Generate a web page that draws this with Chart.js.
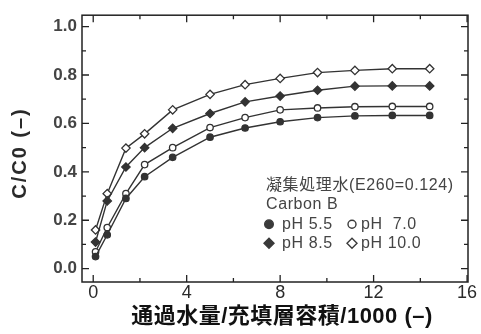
<!DOCTYPE html>
<html>
<head>
<meta charset="utf-8">
<script src="https://cdn.jsdelivr.net/npm/chart.js@4/dist/chart.umd.min.js"></script>
<style>
  html, body { margin: 0; padding: 0; background: #ffffff; }
  canvas { display: block; }
</style>
</head>
<body>
<canvas id="c" width="481" height="334"></canvas>
<script>
// ---- data ----
const bedVolumes = [0.1, 0.6, 1.4, 2.2, 3.4, 5.0, 6.5, 8.0, 9.6, 11.2, 12.8, 14.4];
const ph55  = [0.05, 0.14, 0.29, 0.38, 0.46, 0.543, 0.581, 0.607, 0.624, 0.631, 0.633, 0.633];
const ph70  = [0.07, 0.17, 0.31, 0.43, 0.50, 0.583, 0.624, 0.656, 0.664, 0.669, 0.670, 0.670];
const ph85  = [0.11, 0.28, 0.42, 0.50, 0.58, 0.641, 0.689, 0.713, 0.737, 0.754, 0.755, 0.755];
const ph100 = [0.16, 0.31, 0.498, 0.557, 0.656, 0.72, 0.76, 0.786, 0.81, 0.819, 0.826, 0.826];

const xMajorTicks = [0, 4, 8, 12, 16];
const xMinorTicks = [2, 6, 10, 14];
const yMajorTicks = [0, 0.2, 0.4, 0.6, 0.8, 1.0];
const yMinorTicks = [0.1, 0.3, 0.5, 0.7, 0.9];

const xTitle = '通過水量/充填層容積/1000 (–)';
const yTitle = 'C/C0 (–)';
const legendTitle1 = '凝集処理水(E260=0.124)';
const legendTitle2 = 'Carbon B';
const seriesLabels = ['pH 5.5', 'pH  7.0', 'pH 8.5', 'pH 10.0'];

const toPoints = (ys) => ys.map((v, i) => ({ x: bedVolumes[i], y: v }));

const INK = '#333333';

function ds(label, ys, style, filled, r) {
  return {
    label: label,
    data: toPoints(ys),
    showLine: true,
    tension: 0,
    borderColor: INK,
    borderWidth: 1.4,
    pointStyle: style,
    pointRadius: r,
    pointBackgroundColor: filled ? INK : '#ffffff',
    pointBorderColor: INK,
    pointBorderWidth: 1.3,
    fill: false
  };
}

function drawMarker(ctx, kind, x, y, r, filled) {
  ctx.beginPath();
  if (kind === 'circle') {
    ctx.arc(x, y, r, 0, Math.PI * 2);
  } else {
    ctx.moveTo(x, y - r); ctx.lineTo(x + r, y); ctx.lineTo(x, y + r); ctx.lineTo(x - r, y); ctx.closePath();
  }
  ctx.fillStyle = filled ? '#3a3a3a' : '#ffffff';
  ctx.fill();
  ctx.lineWidth = 1.4;
  ctx.strokeStyle = '#3a3a3a';
  ctx.stroke();
}

const decor = {
  id: 'decor',
  beforeDatasetsDraw(chart) {
    const { ctx, chartArea: a, scales } = chart;
    const xs = scales.x, ys = scales.y;
    ctx.save();
    ctx.strokeStyle = '#222222';
    ctx.lineWidth = 1.5;
    ctx.strokeRect(a.left, a.top, a.right - a.left, a.bottom - a.top);
    ctx.lineWidth = 1.3;
    ctx.beginPath();
    const tick = (vals, len) => {
      vals.forEach(v => {
        const px = xs.getPixelForValue(v);
        ctx.moveTo(px, a.bottom); ctx.lineTo(px, a.bottom - len);
        ctx.moveTo(px, a.top); ctx.lineTo(px, a.top + len);
      });
    };
    const ticky = (vals, len) => {
      vals.forEach(v => {
        const py = ys.getPixelForValue(v);
        ctx.moveTo(a.left, py); ctx.lineTo(a.left + len, py);
        ctx.moveTo(a.right, py); ctx.lineTo(a.right - len, py);
      });
    };
    tick(xMajorTicks, 7); tick(xMinorTicks, 4);
    ticky(yMajorTicks, 7); ticky(yMinorTicks, 4);
    ctx.stroke();
    ctx.restore();
  },
  afterDraw(chart) {
    const { ctx, chartArea: a } = chart;
    ctx.save();
    // Y title
    ctx.translate(20, 153);
    ctx.rotate(-Math.PI / 2);
    ctx.font = 'bold 20px "Liberation Sans", Arial, sans-serif';
    ctx.letterSpacing = '2px';
    ctx.fillStyle = '#2a2a2a';
    ctx.textAlign = 'center';
    ctx.textBaseline = 'middle';
    ctx.fillText(yTitle, 0, 0);
    ctx.restore();

    // X title
    ctx.save();
    ctx.font = 'bold 22px "Liberation Sans", "Noto Sans CJK JP", sans-serif';
    ctx.letterSpacing = '0.5px';
    ctx.fillStyle = '#111111';
    ctx.textAlign = 'center';
    ctx.textBaseline = 'middle';
    ctx.fillText(xTitle, 282, 317);
    ctx.restore();

    // Legend block inside plot
    ctx.save();
    const lx = a.left + 184;
    ctx.fillStyle = '#444444';
    ctx.textAlign = 'left';
    ctx.textBaseline = 'middle';
    ctx.letterSpacing = '0.6px';
    ctx.font = '16px "Liberation Sans", "Noto Sans CJK JP", sans-serif';
    ctx.fillText(legendTitle1, lx, a.top + 170);
    ctx.fillText(legendTitle2, lx, a.top + 189.5);
    const r1 = a.top + 209, r2 = a.top + 228;
    drawMarker(ctx, 'circle', lx + 3, r1, 4.3, true);
    drawMarker(ctx, 'circle', lx + 86, r1, 4, false);
    drawMarker(ctx, 'diamond', lx + 3, r2, 5, true);
    drawMarker(ctx, 'diamond', lx + 86, r2, 5, false);
    ctx.fillStyle = '#444444';
    ctx.fillText(seriesLabels[0], lx + 16, r1);
    ctx.fillText(seriesLabels[1], lx + 95, r1);
    ctx.fillText(seriesLabels[2], lx + 16, r2);
    ctx.fillText(seriesLabels[3], lx + 95, r2);
    ctx.restore();
  }
};

new Chart(document.getElementById('c'), {
  type: 'line',
  data: {
    datasets: [
      ds(seriesLabels[0], ph55, 'circle', true, 3.2),
      ds(seriesLabels[1], ph70, 'circle', false, 3.2),
      ds(seriesLabels[2], ph85, 'rectRot', true, 4.2),
      ds(seriesLabels[3], ph100, 'rectRot', false, 4.2)
    ]
  },
  options: {
    responsive: false,
    animation: false,
    layout: { padding: { top: 12, right: 13, left: 0, bottom: 0 } },
    plugins: { legend: { display: false }, tooltip: { enabled: false } },
    scales: {
      x: {
        type: 'linear',
        min: -0.48,
        max: 16.04,
        grid: { display: false, drawTicks: false },
        border: { display: false },
        afterBuildTicks: (s) => { s.ticks = xMajorTicks.map(v => ({ value: v })); },
        afterFit: (s) => { s.height = 52; },
        ticks: {
          padding: 0,
          autoSkip: false,
          maxRotation: 0,
          color: '#2a2a2a',
          font: { family: '"Liberation Sans", Arial, sans-serif', size: 18 },
          callback: (v) => String(v)
        }
      },
      y: {
        type: 'linear',
        min: -0.055,
        max: 1.047,
        grid: { display: false, drawTicks: false },
        border: { display: false },
        afterBuildTicks: (s) => { s.ticks = yMajorTicks.map(v => ({ value: v })); },
        afterFit: (s) => { s.width = 82; },
        ticks: {
          padding: 5,
          color: '#444444',
          font: { family: '"Liberation Sans", Arial, sans-serif', size: 17, weight: 'bold' },
          callback: (v) => Number(v).toFixed(1)
        }
      }
    }
  },
  plugins: [decor]
});
</script>
</body>
</html>
